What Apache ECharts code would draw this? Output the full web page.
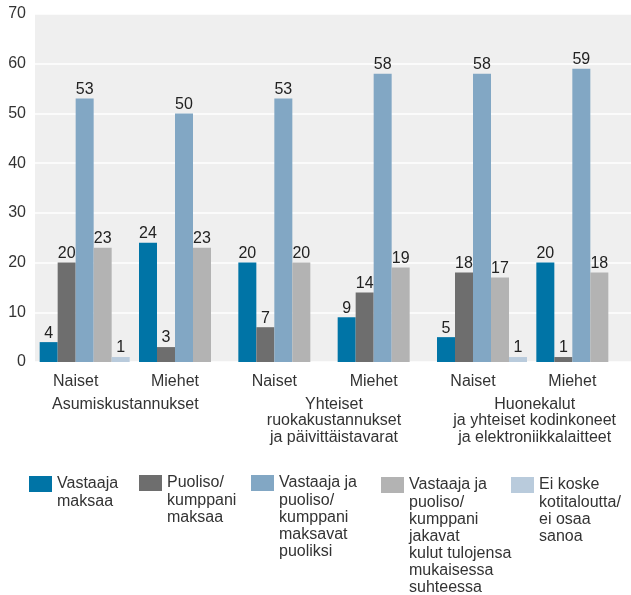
<!DOCTYPE html>
<html>
<head>
<meta charset="utf-8">
<script src="https://cdn.jsdelivr.net/npm/echarts@6/dist/echarts.min.js"></script>
<style>
html,body{margin:0;padding:0;background:#fff;}
#c{width:631px;height:595px;}
</style>
</head>
<body>
<div id="c"></div>
<script>
var categories = ['Naiset', 'Miehet', 'Naiset', 'Miehet', 'Naiset', 'Miehet'];
var groups = ['Asumiskustannukset', 'Yhteiset\nruokakustannukset\nja päivittäistavarat', 'Huonekalut\nja yhteiset kodinkoneet\nja elektroniikkalaitteet'];
var seriesNames = [
  'Vastaaja\nmaksaa',
  'Puoliso/\nkumppani\nmaksaa',
  'Vastaaja ja\npuoliso/\nkumppani\nmaksavat\npuoliksi',
  'Vastaaja ja\npuoliso/\nkumppani\njakavat\nkulut tulojensa\nmukaisessa\nsuhteessa',
  'Ei koske\nkotitaloutta/\nei osaa\nsanoa'
];
var vastaajaMaksaa = [4, 24, 20, 9, 5, 20];
var puolisoMaksaa = [20, 3, 7, 14, 18, 1];
var puoliksi = [53, 50, 53, 58, 58, 59];
var tulojenMukaan = [23, 23, 20, 19, 17, 18];
var eiKoske = [1, null, null, null, 1, null];
var yTicks = [0, 10, 20, 30, 40, 50, 60, 70];

var colors = ['#0074a6', '#6e6e6e', '#82a7c4', '#b3b3b3', '#b9cbdc'];
var values = [vastaajaMaksaa, puolisoMaksaa, puoliksi, tulojenMukaan, eiKoske];
var FONT = 'Liberation Sans, Arial, sans-serif';
var L = 17.1;

var legendLeft = [29, 139, 251, 381, 511];
var legendIconTop = [476, 475, 475, 477, 477];

var series = seriesNames.map(function (n, i) {
  return {
    name: n,
    type: 'bar',
    data: values[i],
    barWidth: 18,
    barGap: '0%',
    itemStyle: { color: colors[i] },
    label: {
      show: true,
      position: 'top',
      distance: 1,
      fontSize: 16,
      fontFamily: FONT,
      color: '#222'
    }
  };
});

var legends = seriesNames.map(function (n, i) {
  var lines = n.split('\n').length;
  var total = 2 * lines - 1;
  var above = Math.max(0, total * L / 2 - 8);
  var prefix = new Array(lines).join('\n');
  return {
    data: [n],
    left: legendLeft[i],
    top: legendIconTop[i] - above,
    padding: 0,
    itemWidth: 23,
    itemHeight: 16,
    itemGap: 3,
    icon: 'rect',
    selectedMode: false,
    formatter: function (name) { return prefix + name; },
    textStyle: {
      fontSize: 16,
      fontFamily: FONT,
      color: '#333',
      lineHeight: L
    }
  };
});

var groupOffsets = [[0, 18, 0, 0], [0, 0, 0, 2], [0, 0, 0, 6]];

var option = {
  animation: false,
  textStyle: { fontFamily: FONT },
  grid: {
    left: 35, right: -4, top: 14, bottom: 233,
    show: true, backgroundColor: '#efefef', borderWidth: 0
  },
  legend: legends,
  xAxis: [{
    type: 'category',
    data: categories,
    axisLine: { show: false },
    axisTick: { show: false },
    axisLabel: {
      fontSize: 16, fontFamily: FONT, color: '#333', margin: 12,
      padding: [0, 18, 0, 0]
    }
  }, {
    type: 'category',
    position: 'bottom',
    data: groups.map(function (g, i) {
      return { value: g, textStyle: { padding: groupOffsets[i] } };
    }),
    axisLine: { show: false },
    axisTick: { show: false },
    axisLabel: {
      fontSize: 16, fontFamily: FONT, color: '#333', margin: 34,
      lineHeight: 16.5, interval: 0
    }
  }],
  yAxis: {
    type: 'value',
    min: yTicks[0],
    max: yTicks[yTicks.length - 1],
    interval: 10,
    axisLine: { show: false },
    axisTick: { show: false },
    splitLine: { lineStyle: { color: '#ffffff', width: 1.5 } },
    axisLabel: {
      fontSize: 16, fontFamily: FONT, color: '#333', margin: 9,
      padding: [5, 0, 0, 0]
    }
  },
  series: series
};

var chart = echarts.init(document.getElementById('c'), null, { renderer: 'canvas' });
chart.setOption(option);
</script>
</body>
</html>
